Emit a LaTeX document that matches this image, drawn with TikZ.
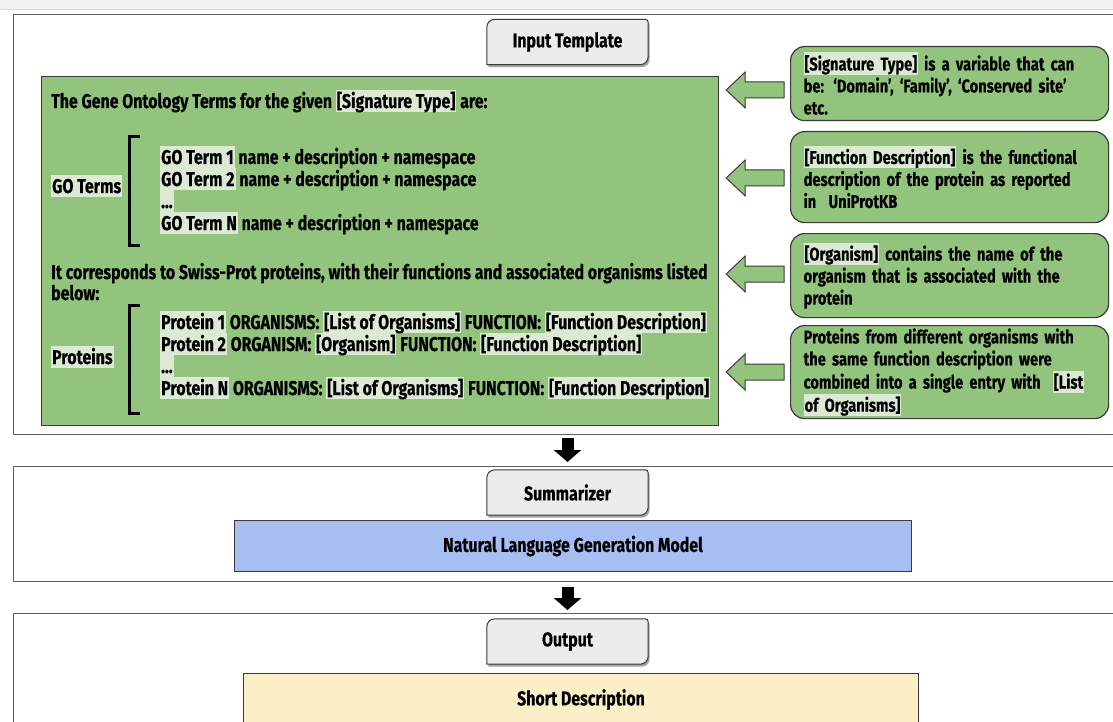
\documentclass[tikz,border=0pt]{standalone}
\usepackage{fontspec}
\setmainfont{Fira Sans}[FakeStretch=0.795, BoldFeatures={FakeBold=0.4}]
\usetikzlibrary{calc,backgrounds,arrows.meta}

\definecolor{leafgreen}{HTML}{93C47D}
\definecolor{hlgreen}{HTML}{DCE9D5}
\definecolor{edge}{HTML}{3A3A3A}
\definecolor{paneledge}{HTML}{5E5E5E}
\definecolor{tabgray}{HTML}{ECECEC}
\definecolor{modelblue}{HTML}{A7BEF3}
\definecolor{outyellow}{HTML}{FCEFC8}

% highlighted run of text: a pale box exactly one line tall
\newcommand\hlt[1]{{\setlength\fboxsep{0pt}\colorbox{hlgreen}{\rule[-4pt]{0pt}{22pt}\kern1pt#1\kern1pt}}}

% tab-like title box, drawn behind its label
\newcommand\tabshape[1]{%
  \begin{scope}[on background layer]
    \fill[black!60, opacity=.6]
      ($(#1.south west)+(1.5,2.5)$) [rounded corners=8pt] --
      ($(#1.north west)+(1.5,2.5)$) [rounded corners=3pt] --
      ($(#1.north east)+(1.5,2.5)$) [rounded corners=8pt] --
      ($(#1.south east)+(1.5,2.5)$) [sharp corners] -- cycle;
    \filldraw[fill=tabgray, draw=edge, line width=1pt]
      (#1.south west) [rounded corners=8pt] --
      (#1.north west) [rounded corners=3pt] --
      (#1.north east) [rounded corners=8pt] --
      (#1.south east) [sharp corners] -- cycle;
  \end{scope}}

\tikzset{
  every node/.style={font=\bfseries\fontsize{20}{22}\selectfont},
  panel/.style={draw=paneledge, line width=1.3pt, anchor=north west, inner sep=0},
  tabtitle/.style={minimum width=161pt, minimum height=45pt, inner sep=0},
  txt/.style={anchor=base west, inner sep=0},
  callout/.style={draw=edge, fill=leafgreen, line width=1.2pt, rounded corners=14pt,
    anchor=north west, text width=292pt, inner xsep=13pt, inner ysep=0pt, align=left,
    minimum width=318pt, font=\bfseries\fontsize{18.5}{22}\selectfont},
  garrow/.style={fill=leafgreen, draw=edge, line width=1pt},
  downarr/.style={line width=12pt, black, -{Triangle[length=12pt,width=27pt]}},
  bracket/.style={line width=3pt, black},
}

\begin{document}
\begin{tikzpicture}[x=1pt, y=-1pt]
\useasboundingbox (0,0) rectangle (1113,722);
\begin{scope}[on background layer]
  \fill[white] (0,0) rectangle (1113,722);
  \fill[black!5] (0,0) rectangle (1113,9);
  \draw[black!14, line width=1pt] (0,9.5) -- (1113,9.5);
\end{scope}

% ---- panels
\node[panel, minimum width=1110pt, minimum height=420pt] (p1) at (13,14) {};
\node[panel, minimum width=1110pt, minimum height=115pt] (p2) at (13,466) {};
\node[panel, minimum width=1110pt, minimum height=125pt] (p3) at (13,613) {};

% ---- input template
\node[tabtitle] (tin) at (567.5,42) {Input Template};
\tabshape{tin}

\node[draw=edge, fill=leafgreen, line width=1.2pt, anchor=north west,
      minimum width=677pt, minimum height=349pt, inner sep=0] (main) at (41,76) {};

\node[txt] (l0) at (51,108) {The Gene Ontology Terms for the given \hlt{[Signature Type]} are:};

\node[txt] (goterms) at (51,193) {\hlt{GO Terms}};
\draw[bracket] (140,137) -- (129.5,137) -- (129.5,245) -- (140,245);
\node[txt] (go1) at (160,164) {\hlt{GO Term 1} name + description + namespace};
\node[txt] (go2) at (160,186) {\hlt{GO Term 2} name + description + namespace};
\node[txt] (go3) at (160,208) {\hlt{...}};
\node[txt] (go4) at (160,230) {\hlt{GO Term N} name + description + namespace};

\node[txt] (l1) at (51,279) {It corresponds to Swiss-Prot proteins, with their functions and associated organisms listed};
\node[txt] (l2) at (51,300) {below:};

\node[txt] (prots) at (51,364) {\hlt{Proteins}};
\draw[bracket] (140,305) -- (129.5,305) -- (129.5,413) -- (140,413);
\node[txt] (pr1) at (160,329) {\hlt{Protein 1} ORGANISMS: \hlt{[List of Organisms]} FUNCTION: \hlt{[Function Description]}};
\node[txt] (pr2) at (160,351) {\hlt{Protein 2} ORGANISM: \hlt{[Organism]} FUNCTION: \hlt{[Function Description]}};
\node[txt] (pr3) at (160,373) {\hlt{...}};
\node[txt] (pr4) at (160,395) {\hlt{Protein N} ORGANISMS: \hlt{[List of Organisms]} FUNCTION: \hlt{[Function Description]}};

% ---- callouts
\node[callout, minimum height=74pt] (c1) at (790,46)
  {\hlt{[Signature Type]} is a variable that can\\ be: ‘Domain’, ‘Family’, ‘Conserved site’\\ etc.};
\node[callout, minimum height=91pt] (c2) at (790,131)
  {\hlt{[Function Description]} is the functional\\ description of the protein as reported\\ in\ \ UniProtKB};
\node[callout, minimum height=84pt] (c3) at (790,233)
  {\hlt{[Organism]} contains the name of the\\ organism that is associated with the\\ protein};
\node[callout, minimum height=93pt] (c4) at (790,325)
  {Proteins from different organisms with\\ the same function description were\\ combined into a single entry with\ \ \hlt{[List}\\ \hlt{of Organisms]}};

% ---- block arrows from the callouts to the template
\foreach \c/\yy in {c1/90, c2/178, c3/274, c4/372}{
  \coordinate (ay) at (0,\yy);
  \draw[garrow] ($(main.east |- ay)+(7,0)$) -- ++(19,-18) -- ++(0,10) -- ++(39,0)
     -- ++(0,16) -- ++(-39,0) -- ++(0,10) -- cycle;
}

% ---- summarizer
\node[tabtitle] (tsum) at (567.5,492.5) {Summarizer};
\tabshape{tsum}
\node[draw=edge, fill=modelblue, line width=1pt, anchor=north west,
      minimum width=677pt, minimum height=51pt] (nlg) at (234,520) {Natural Language Generation Model};

% ---- output
\node[tabtitle] (tout) at (567.5,641.5) {Output};
\tabshape{tout}
\node[draw=edge, fill=outyellow, line width=1pt, anchor=north west,
      minimum width=675pt, minimum height=52pt] (short) at (243,673) {Short Description};

% ---- flow arrows between panels
\draw[downarr] ($(p1.south -| tin.center)+(0,3)$) -- ($(p2.north -| tin.center)+(0,-4)$);
\draw[downarr] ($(p2.south -| tin.center)+(0,5)$) -- ($(p3.north -| tin.center)+(0,-3)$);
\end{tikzpicture}
\end{document}
